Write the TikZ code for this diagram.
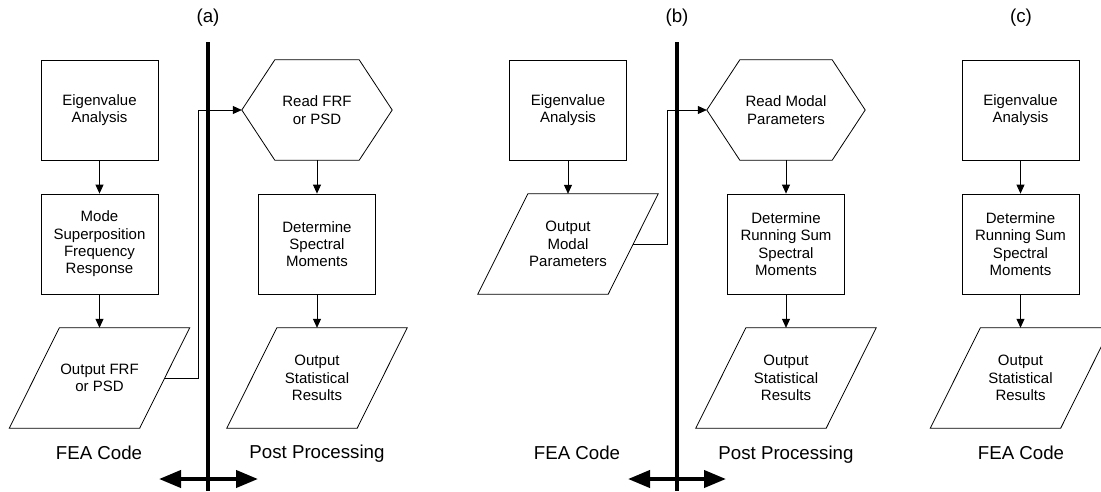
\documentclass[tikz,border=0pt]{standalone}
\usepackage{fontspec}
\setmainfont{Liberation Sans}
\usetikzlibrary{arrows.meta}
\tikzset{
  box/.style={draw, line width=0.8pt, minimum width=117, minimum height=100, inner sep=0pt, align=center, font=\fontsize{15}{17.3}\selectfont},
  shapetxt/.style={minimum height=100, inner sep=0pt, align=center, font=\fontsize{15}{17.3}\selectfont},
  outline/.style={draw, line width=0.8pt, line join=miter},
  flow/.style={-{Triangle[length=9pt,width=8pt]}, line width=0.8pt},
  divider/.style={line width=4pt},
  dbl/.style={line width=4pt, {Triangle[length=22pt,width=17pt]}-{Triangle[length=22pt,width=17pt]}},
  lbl/.style={font=\fontsize{18.7}{21}\selectfont, inner sep=0pt}
}
\newcommand\paraout[1]{\draw[outline] ([xshift=-25pt]#1.south west) -- ([xshift=-25pt]#1.south east) -- ([xshift=25pt]#1.north east) -- ([xshift=25pt]#1.north west) -- cycle;}
\newcommand\hexout[1]{\draw[outline] (#1.west) -- ([xshift=33pt]#1.north west) -- ([xshift=-33pt]#1.north east) -- (#1.east) -- ([xshift=-33pt]#1.south east) -- ([xshift=33pt]#1.south west) -- cycle;}
\begin{document}
\begin{tikzpicture}[x=1pt, y=-1pt]
\clip (0,0) rectangle (1101,491);
\fill[white] (0,0) rectangle (1101,491);

% ---------- panel (a)
\node[lbl] (ta) at (208,18) {(a)};
\node[box] (a1) at (99.5,110) {Eigenvalue\\Analysis};
\node[box] (a2) at (99.5,244) {Mode\\Superposition\\Frequency\\Response};
\node[shapetxt, minimum width=130] (a3) at (99.5,378) {Output FRF\\or PSD};
\paraout{a3}
\node[shapetxt, minimum width=150] (a4) at (317,110) {Read FRF\\or PSD};
\hexout{a4}
\node[box] (a5) at (317,244) {Determine\\Spectral\\Moments};
\node[shapetxt, minimum width=130] (a6) at (317,378) {Output\\Statistical\\Results};
\paraout{a6}
\draw[flow] (a1.south) -- (a2.north);
\draw[flow] (a2.south) -- (a3.north);
\draw[flow] (a3.east) -- ++(34,0) |- (a4.west);
\draw[flow] (a4.south) -- (a5.north);
\draw[flow] (a5.south) -- (a6.north);
\node[lbl] (fa) at (99,453) {FEA Code};
\node[lbl] (pa) at (317,454) {Post Processing};
\coordinate (va1) at (208,42);
\coordinate (va2) at (208,491);
\draw[divider] (va1) -- (va2);
\coordinate (da1) at (159,479);
\coordinate (da2) at (258,479);
\draw[dbl] (da1) -- (da2);

% ---------- panel (b)
\node[lbl] (tb) at (677,18) {(b)};
\node[box] (b1) at (568,110) {Eigenvalue\\Analysis};
\node[shapetxt, minimum width=130] (b2) at (568,244) {Output\\Modal\\Parameters};
\paraout{b2}
\node[shapetxt, minimum width=158] (b4) at (786,110) {Read Modal\\Parameters};
\hexout{b4}
\node[box] (b5) at (786,244) {Determine\\Running Sum\\Spectral\\Moments};
\node[shapetxt, minimum width=130] (b6) at (786,378) {Output\\Statistical\\Results};
\paraout{b6}
\draw[flow] (b1.south) -- (b2.north);
\draw[flow] (b2.east) -- ++(34,0) |- (b4.west);
\draw[flow] (b4.south) -- (b5.north);
\draw[flow] (b5.south) -- (b6.north);
\node[lbl] (fb) at (577,453) {FEA Code};
\node[lbl] (pb) at (786,455) {Post Processing};
\coordinate (vb1) at (677,42);
\coordinate (vb2) at (677,491);
\draw[divider] (vb1) -- (vb2);
\coordinate (db1) at (628,479);
\coordinate (db2) at (726,479);
\draw[dbl] (db1) -- (db2);

% ---------- panel (c)
\node[lbl] (tc) at (1021,18) {(c)};
\node[box] (c1) at (1020.5,110) {Eigenvalue\\Analysis};
\node[box] (c2) at (1020.5,244) {Determine\\Running Sum\\Spectral\\Moments};
\node[shapetxt, minimum width=130] (c3) at (1020.5,378) {Output\\Statistical\\Results};
\paraout{c3}
\draw[flow] (c1.south) -- (c2.north);
\draw[flow] (c2.south) -- (c3.north);
\node[lbl] (fc) at (1021,453) {FEA Code};
\end{tikzpicture}
\end{document}
